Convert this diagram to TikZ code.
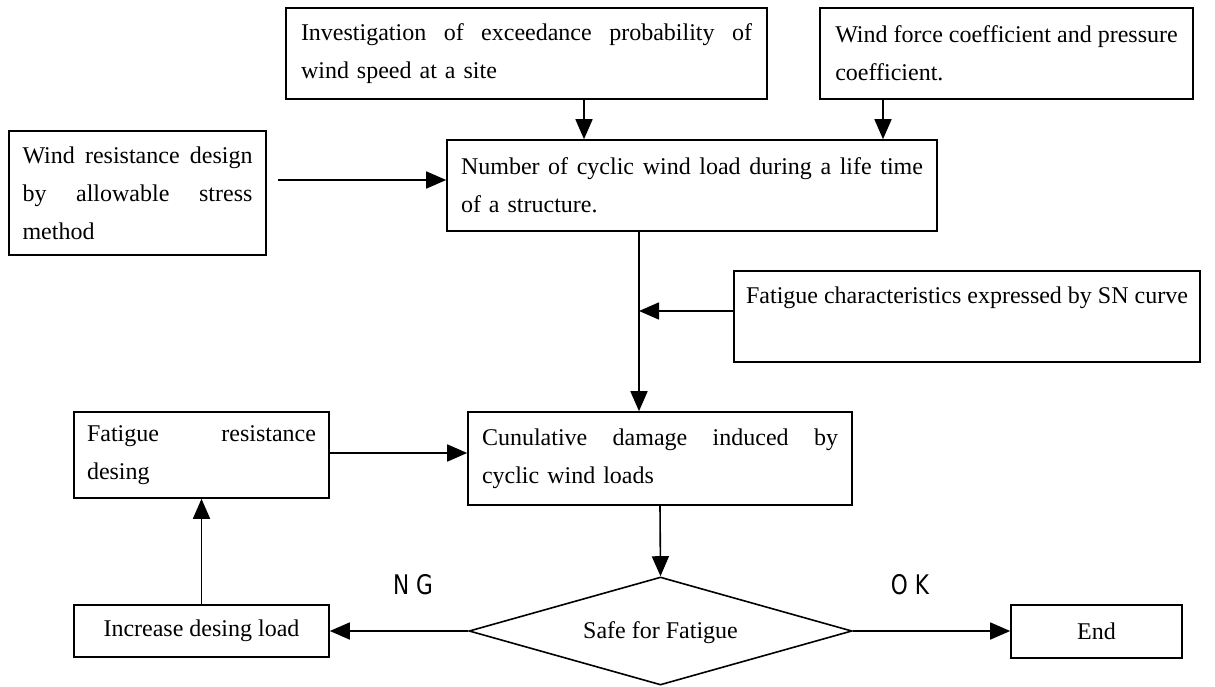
\documentclass[tikz,border=0pt]{standalone}
\usepackage{fontspec}
\setmainfont{Liberation Serif}
\newfontfamily\labfont[FakeStretch=0.8]{DejaVu Sans}
\usetikzlibrary{arrows.meta,shapes.geometric}
\begin{document}
\begin{tikzpicture}[x=1pt,y=-1pt,
  box/.style={draw, line width=1.6pt, inner sep=0pt, align=left,
    font=\fontsize{24}{38}\selectfont},
  cbox/.style={draw, line width=1.6pt, inner sep=0pt, align=center,
    font=\fontsize{24}{38}\selectfont},
  arr/.style={line width=1.6pt, -{Triangle[length=20pt,width=17pt]}},
  lab/.style={font=\labfont\fontsize{27}{27}\selectfont, inner sep=0pt},
]
\useasboundingbox (0,0) rectangle (1215,686);

% boxes
\node[box, minimum width=481, minimum height=91, text width=451] (b1) at (526.5,53.5)
  {\makebox[451pt][s]{Investigation\hfill of\hfill exceedance\hfill probability\hfill of}\\ wind speed at a site};
\node[box, minimum width=373, minimum height=91] (b2) at (1006.5,53.5)
  {Wind force coefficient and pressure\\ coefficient.};
\node[box, minimum width=257, minimum height=124, text width=230] (b3) at (137.5,193)
  {\makebox[230pt][s]{Wind\hfill resistance\hfill design}\\ \makebox[230pt][s]{by\hfill allowable\hfill stress}\\ method\par\vspace*{10pt}};
\node[box, minimum width=490, minimum height=91, text width=462] (b4) at (692,185.5)
  {\makebox[462pt][s]{Number\hfill of\hfill cyclic\hfill wind\hfill load\hfill during\hfill a\hfill life\hfill time}\\ of a structure.};
\node[box, minimum width=466, minimum height=91] (sn) at (967,316.5)
  {\raisebox{18.5pt}[\height][\depth]{Fatigue characteristics expressed by SN curve}};
\node[box, minimum width=384, minimum height=93, text width=356] (b6) at (660,458.5)
  {\makebox[356pt][s]{Cunulative\hfill damage\hfill induced\hfill by}\\ cyclic wind loads};
\node[box, minimum width=255, minimum height=86, text width=229] (b7) at (201.5,455)
  {\makebox[229pt][s]{Fatigue\hfill resistance}\\ desing};
\node[cbox, minimum width=255, minimum height=52] (b9) at (201.5,631) {Increase desing load};
\node[cbox, minimum width=171, minimum height=53] (end) at (1096.5,631.5) {End};
\node[draw, line width=1.6pt, diamond, shape aspect=3.45, inner sep=0pt,
  minimum width=383, minimum height=108, font=\fontsize{24}{38}\selectfont] (d) at (660.5,631)
  {\raisebox{-2pt}[\height][\depth]{Safe for Fatigue}};

% labels
\node[lab] (ng) at (413,585) {N G};
\node[lab] (ok) at (910,585) {O K};

% helper coordinates
\coordinate (c1) at (584,0);
\coordinate (c2) at (883,0);
\coordinate (s3) at (278,180);
\coordinate (cv) at (639,0);
\coordinate (csn) at (0,311);
\coordinate (c7) at (0,453);

% connectors
\draw[arr] (b1.south -| c1) -- (b4.north -| c1);
\draw[arr] (b2.south -| c2) -- (b4.north -| c2);
\draw[arr] (s3) -- (b4.west |- s3);
\draw[arr] (b4.south -| cv) -- (b6.north -| cv);
\draw[arr] (sn.west |- csn) -- (cv |- csn);
\draw[arr] (b6.south) -- (d.north);
\draw[arr] (b7.east |- c7) -- (b6.west |- c7);
\draw[arr] (d.west) -- (b9.east |- d.west);
\draw[arr] (d.east) -- (end.west |- d.east);
\draw[arr] (b9.north) -- (b7.south);
\end{tikzpicture}
\end{document}
